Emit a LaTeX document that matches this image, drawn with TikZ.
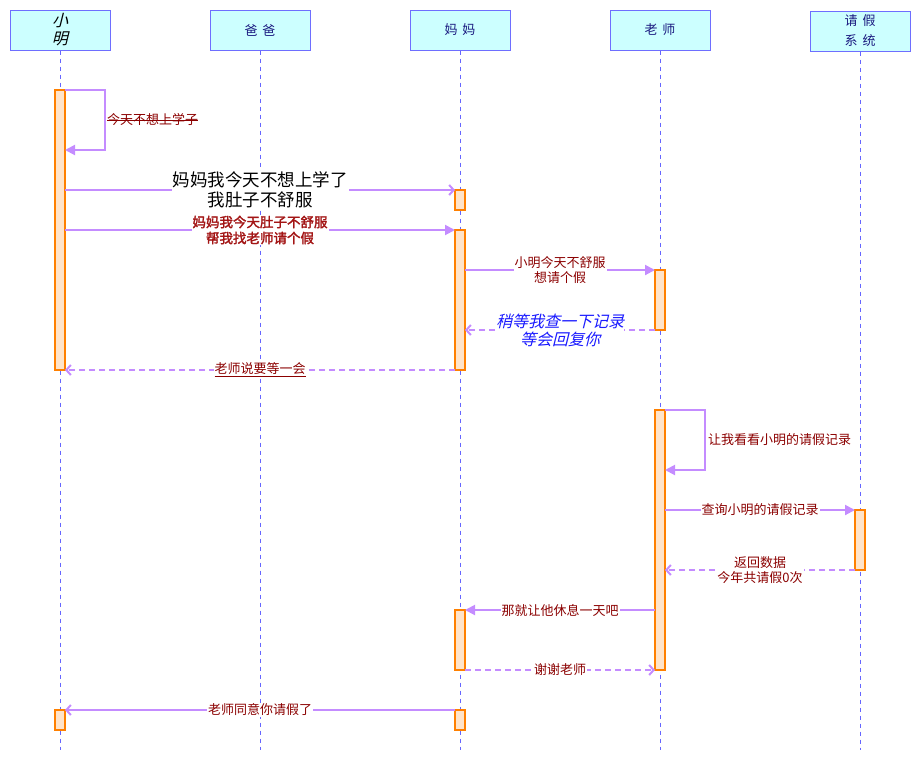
\documentclass[tikz,border=0pt]{standalone}
\usepackage{fontspec}
\setmainfont{Noto Sans CJK SC}
\newfontfamily\cjkit[FakeSlant=0.25]{Noto Sans CJK SC}
\newfontfamily\cjkbf[FakeBold=2]{Noto Sans CJK SC}
\usetikzlibrary{arrows.meta}
\definecolor{hdrfill}{HTML}{CCFFFF}
\definecolor{hdrline}{HTML}{6E6EFF}
\definecolor{lifeline}{HTML}{6666FF}
\definecolor{msgline}{HTML}{C48CFF}
\definecolor{actfill}{HTML}{FFE4CA}
\definecolor{actline}{HTML}{FF8000}
\definecolor{lbl}{HTML}{8B0000}
\definecolor{lblb}{HTML}{A31515}
\definecolor{hdrtext}{HTML}{1A1A80}
\definecolor{bluetext}{HTML}{1A1AFF}
\tikzset{
  hdr/.style={draw=hdrline, line width=1pt, fill=hdrfill, minimum width=100pt, minimum height=40pt, inner sep=0pt, align=center, text=hdrtext, font=\fontsize{13}{20}\selectfont},
  life/.style={draw=lifeline, line width=0.8pt, dash pattern=on 4pt off 4pt},
  act/.style={draw=actline, fill=actfill, line width=1.3pt, minimum width=10pt, inner sep=0pt, outer sep=0pt},
  msg/.style={draw=msgline, line width=2pt, -{Triangle[length=10pt,width=10pt]}},
  msgo/.style={draw=msgline, line width=2pt, -{Straight Barb[length=4.5pt,width=10pt]}},
  reply/.style={msgo, dash pattern=on 6pt off 4pt},
  lab/.style={fill=white, inner sep=1pt, text=lbl, align=center, font=\fontsize{13}{15.5}\selectfont},
}
\begin{document}
\begin{tikzpicture}[x=1pt,y=-1pt]
\useasboundingbox (0,0) rectangle (921,761);
% headers
\node[hdr, text=black, font=\cjkit\fontsize{16}{18}\selectfont] (xm) at (60,30) {小\\明};
\node[hdr] (bb) at (260,30) {爸\hspace{5pt}爸};
\node[hdr] (mm) at (460,30) {妈\hspace{5pt}妈};
\node[hdr] (ls) at (660,30) {老\hspace{5pt}师};
\node[hdr] (xt) at (860,31) {请\hspace{5pt}假\\系\hspace{5pt}统};
% lifeline ends
\coordinate (xmE) at (60,750);
\coordinate (bbE) at (260,750);
\coordinate (mmE) at (460,750);
\coordinate (lsE) at (660,750);
\coordinate (xtE) at (860,750);
\draw[life] (xm.south) -- (xmE);
\draw[life] (bb.south) -- (bbE);
\draw[life] (mm.south) -- (mmE);
\draw[life] (ls.south) -- (lsE);
\draw[life] (xt.south) -- (xtE);
% activations
\node[act, minimum height=280pt] (a1) at (60,230) {};
\node[act, minimum height=20pt] (a2) at (60,720) {};
\node[act, minimum height=20pt] (m1) at (460,200) {};
\node[act, minimum height=140pt] (m2) at (460,300) {};
\node[act, minimum height=60pt] (m3) at (460,640) {};
\node[act, minimum height=20pt] (m4) at (460,720) {};
\node[act, minimum height=60pt] (t1) at (660,300) {};
\node[act, minimum height=260pt] (t2) at (660,540) {};
\node[act, minimum height=60pt] (s1) at (860,540) {};
% 1 self message
\draw[msg] (a1.north east) -- ++(40,0) |- (a1.east |- 0,150);
\node[lab, fill=none, inner sep=0pt, anchor=west] (l1) at (107,120) {今天不想上学子};
\draw[lbl, line width=0.7pt] (l1.west) -- (l1.east);
% 2
\draw[msgo] (a1.east |- 0,190) -- node[lab, text=black, font=\fontsize{17.5}{20}\selectfont] {妈妈我今天不想上学了\\我肚子不舒服} (m1.west |- 0,190);
% 3
\draw[msg] (a1.east |- 0,230) -- node[lab, text=lblb, font=\cjkbf\fontsize{13.5}{16}\selectfont] {妈妈我今天肚子不舒服\\帮我找老师请个假} (m2.west |- 0,230);
% 4
\draw[msg] (m2.east |- 0,270) -- node[lab] {小明今天不舒服\\想请个假} (t1.west |- 0,270);
% 5
\draw[reply] (t1.west |- 0,330) -- node[lab, inner sep=0pt, text=bluetext, font=\cjkit\fontsize{16}{18}\selectfont] {稍等我查一下记录\\等会回复你} (m2.east |- 0,330);
% 6
\draw[reply] (m2.west |- 0,370) -- node[lab] {\underline{老师说要等一会}} (a1.east |- 0,370);
% 7 self message
\draw[msg] (t2.north east) -- ++(40,0) |- (t2.east |- 0,470);
\node[lab, fill=none, inner sep=0pt, anchor=west] (l7) at (708,440) {让我看看小明的请假记录};
% 8
\draw[msg] (t2.east |- 0,510) -- node[lab] {查询小明的请假记录} (s1.west |- 0,510);
% 9
\draw[reply] (s1.west |- 0,570) -- node[lab] {返回数据\\今年共请假0次} (t2.east |- 0,570);
% 10
\draw[msg] (t2.west |- 0,610) -- node[lab] {那就让他休息一天吧} (m3.east |- 0,610);
% 11
\draw[reply] (m3.east |- 0,670) -- node[lab] {谢谢老师} (t2.west |- 0,670);
% 12
\draw[msgo] (m4.west |- 0,710) -- node[lab] {老师同意你请假了} (a2.east |- 0,710);
\end{tikzpicture}
\end{document}
